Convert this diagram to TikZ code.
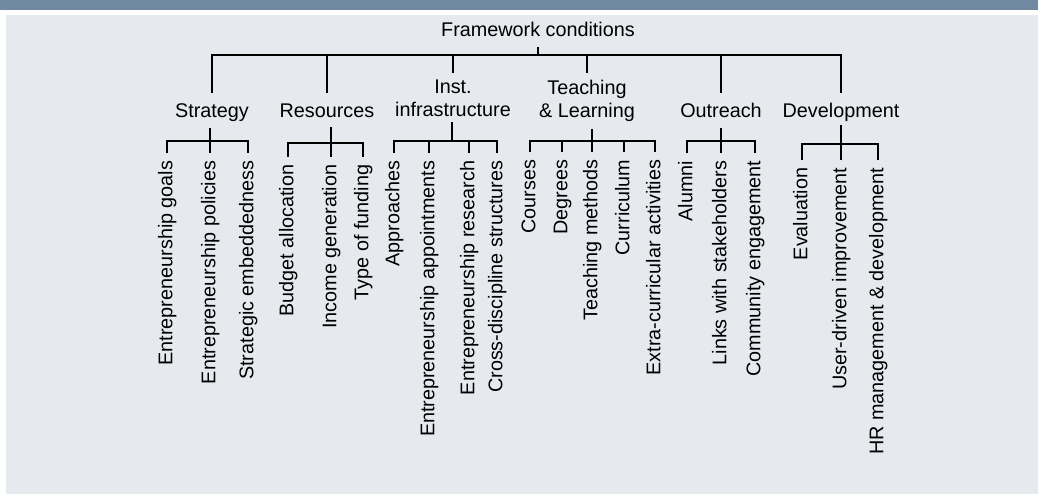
\documentclass[tikz,border=0pt]{standalone}
\usepackage{fontspec}
\setmainfont{Liberation Sans}
\usepackage{xcolor}
\usetikzlibrary{calc}
\usetikzlibrary{positioning}
\definecolor{bandblue}{HTML}{7189A0}
\definecolor{panelgray}{HTML}{E6EAEE}
\newcommand{\chartfont}{\fontsize{19.8pt}{23pt}\selectfont}
\tikzset{
  tree/.style={line width=1.8pt},
  cat/.style={inner sep=0pt, font=\chartfont, text height=14.5pt, text depth=4pt},
  cattwo/.style={inner sep=0pt, font=\chartfont, align=center},
  leaf/.style={inner sep=0pt, inner xsep=8pt, rotate=90, anchor=east, font=\chartfont, text height=14.5pt, text depth=4pt}
}

\begin{document}
\begin{tikzpicture}[x=1pt,y=-1pt]
\useasboundingbox (0,0) rectangle (1038,495);
\fill[bandblue] (0,0) rectangle (1038,10);
\fill[panelgray] (6,15) rectangle (1038,494);

\node[cat, anchor=base] (fc) at (538,37) {Framework conditions};
\coordinate (bar) at (538,55);

\node[cat, anchor=base] (strat) at (212,117) {Strategy};
\node[cat, anchor=base] (res) at (327,117) {Resources};
\node[cattwo, anchor=north] (inst) at (453,80) {Inst.\\infrastructure};
\node[cattwo, anchor=north] (teach) at (587,80) {Teaching\\\& Learning};
\node[cat, anchor=base] (out) at (721,117) {Outreach};
\node[cat, anchor=base] (dev) at (841,117) {Development};

\draw[tree, shorten <=6pt] (fc.south) -- (bar);
\draw[tree, shorten <=9.5pt, shorten >=9.5pt] (strat.north) |- (bar) -| (dev.north);
\draw[tree, shorten >=9.5pt] (res.north |- bar) -- (res.north);
\draw[tree, shorten >=7pt] (inst.north |- bar) -- (inst.north);
\draw[tree, shorten >=7pt] (teach.north |- bar) -- (teach.north);
\draw[tree, shorten >=9.5pt] (out.north |- bar) -- (out.north);

\node[leaf] (sg1) at (167,152.5) {Entrepreneurship goals};
\node[leaf] (sg2) at (210,152.5) {Entrepreneurship policies};
\node[leaf] (sg3) at (248,152.5) {Strategic embeddedness};
\coordinate (sj) at (210,141);
\draw[tree] (sg1.east) |- (sj) -| (sg3.east);
\draw[tree, shorten <=7pt] (strat.south -| sj) -- (sg2.east);

\node[leaf] (rs1) at (288,156.5) {Budget allocation};
\node[leaf] (rs2) at (331,156.5) {Income generation};
\node[leaf] (rs3) at (363,156.5) {Type of funding};
\coordinate (rj) at (331,143);
\draw[tree] (rs1.east) |- (rj) -| (rs3.east);
\draw[tree, shorten <=6pt] (res.south -| rj) -- (rs2.east);

\node[leaf] (in1) at (394,152.5) {Approaches};
\node[leaf] (in2) at (429,152.5) {Entrepreneurship appointments};
\node[leaf] (in3) at (469,152.5) {Entrepreneurship research};
\node[leaf] (in4) at (497,152.5) {Cross-discipline structures};
\coordinate (ij) at (452,141);
\draw[tree] (in1.east) |- (ij) -| (in4.east);
\draw[tree] (in2.east |- ij) -- (in2.east);
\draw[tree] (in3.east |- ij) -- (in3.east);
\draw[tree, shorten <=5pt] (inst.south -| ij) -- (ij);

\node[leaf] (tl1) at (530,151.5) {Courses};
\node[leaf] (tl2) at (562,151.5) {Degrees};
\node[leaf] (tl3) at (592,151.5) {Teaching methods};
\node[leaf] (tl4) at (624,151.5) {Curriculum};
\node[leaf] (tl5) at (655,151.5) {Extra-curricular activities};
\coordinate (tj) at (592,141);
\draw[tree] (tl1.east) |- (tj) -| (tl5.east);
\draw[tree] (tl2.east |- tj) -- (tl2.east);
\draw[tree] (tl4.east |- tj) -- (tl4.east);
\draw[tree, shorten <=7pt] (teach.south -| tj) -- (tl3.east);

\node[leaf] (or1) at (687,152.5) {Alumni};
\node[leaf] (or2) at (721,152.5) {Links with stakeholders};
\node[leaf] (or3) at (755,152.5) {Community engagement};
\coordinate (oj) at (721,141);
\draw[tree] (or1.east) |- (oj) -| (or3.east);
\draw[tree, shorten <=7pt] (out.south -| oj) -- (or2.east);

\node[leaf] (dv1) at (802,159.5) {Evaluation};
\node[leaf] (dv2) at (841,159.5) {User-driven improvement};
\node[leaf] (dv3) at (878,159.5) {HR management \& development};
\coordinate (dj) at (841,144);
\draw[tree] (dv1.east) |- (dj) -| (dv3.east);
\draw[tree, shorten <=4pt] (dev.south -| dj) -- (dv2.east);
\end{tikzpicture}
\end{document}
